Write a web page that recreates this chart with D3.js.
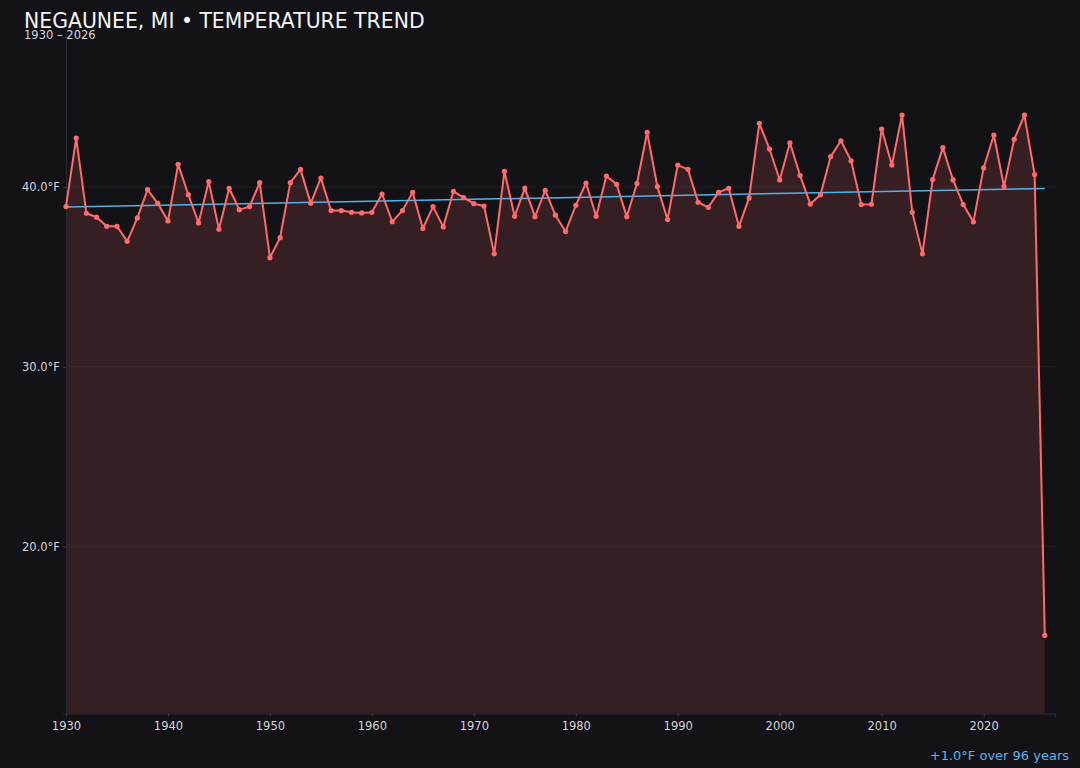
<!DOCTYPE html>
<html>
<head>
<meta charset="utf-8">
<script src="https://cdn.jsdelivr.net/npm/d3@7"></script>
<style>
  html, body { margin: 0; padding: 0; background: #131217; }
  svg { display: block; font-family: "DejaVu Sans", sans-serif; }
</style>
</head>
<body>
<svg id="chart" width="1080" height="768"></svg>
<script>
// Annual mean temperature, Negaunee MI
const firstYear = 1930;
const temps = [
    38.91, 42.72, 38.54, 38.32, 37.81, 37.81, 36.98, 38.28, 39.85, 39.09, // 1930s
    38.11, 41.26, 39.57, 38.00, 40.30, 37.65, 39.93, 38.74, 38.91, 40.24, // 1940s
    36.07, 37.18, 40.24, 40.98, 39.09, 40.50, 38.69, 38.69, 38.59, 38.56, // 1950s
    38.59, 39.61, 38.07, 38.69, 39.70, 37.69, 38.91, 37.78, 39.76, 39.41, // 1960s
    39.07, 38.94, 36.28, 40.87, 38.37, 39.94, 38.35, 39.81, 38.43, 37.52, // 1970s
    38.98, 40.22, 38.37, 40.61, 40.15, 38.35, 40.19, 43.04, 40.02, 38.19, // 1980s
    41.22, 40.98, 39.15, 38.87, 39.70, 39.93, 37.81, 39.39, 43.54, 42.11, // 1990s
    40.39, 42.46, 40.64, 39.05, 39.57, 41.69, 42.57, 41.46, 39.02, 39.04, // 2000s
    43.22, 41.22, 44.00, 38.59, 36.28, 40.41, 42.19, 40.39, 39.02, 38.06, // 2010s
    41.06, 42.89, 40.02, 42.65, 44.00, 40.69, 15.06                       // 2020s
];
const years = temps.map((t, i) => firstYear + i);
const xTicks = [1930, 1940, 1950, 1960, 1970, 1980, 1990, 2000, 2010, 2020];
const yTicks = [20, 30, 40];

const data = years.map((y, i) => ({ year: y, temp: temps[i] }));

const svg = d3.select("#chart");
const margin = { left: 66, right: 25, top: 37, bottom: 54.5 };
const width = +svg.attr("width");
const height = +svg.attr("height");

const lineColor = "#ff6b6b";
const trendColor = "#4fb3e8";
const tickFont = "11.5px";

// scales
const x = d3.scaleLinear()
    .domain([firstYear, years[years.length - 1] + 1])
    .range([margin.left, width - margin.right]);

const ext = d3.extent(temps);
const pad = (ext[1] - ext[0]) * 0.15;
const y = d3.scaleLinear()
    .domain([ext[0] - pad, ext[1] + pad])
    .range([height - margin.bottom, margin.top]);

// gridlines
svg.append("g")
    .selectAll("line")
    .data(yTicks)
    .enter().append("line")
    .attr("x1", margin.left)
    .attr("x2", width - margin.right)
    .attr("y1", d => y(d))
    .attr("y2", d => y(d))
    .attr("stroke", "rgba(255,255,255,0.05)")
    .attr("stroke-width", 1);

// area under the line
const area = d3.area()
    .x(d => x(d.year))
    .y0(y.range()[0])
    .y1(d => y(d.temp));

svg.append("path")
    .datum(data)
    .attr("d", area)
    .attr("fill", lineColor)
    .attr("fill-opacity", 0.15);

// axes
const xAxis = svg.append("g")
    .attr("transform", `translate(0,${height - margin.bottom})`)
    .call(d3.axisBottom(x).tickValues(xTicks).tickFormat(d3.format("d")).tickSize(3).tickPadding(5));

const yAxis = svg.append("g")
    .attr("transform", `translate(${margin.left},0)`)
    .call(d3.axisLeft(y).tickValues(yTicks).tickFormat(d => d.toFixed(1) + "°F").tickSize(3).tickPadding(3));

[xAxis, yAxis].forEach(g => {
    g.select(".domain").attr("stroke", "#2a2a31");
    g.selectAll(".tick line").attr("stroke", "#3a3a42");
    g.selectAll(".tick text")
        .attr("fill", "#d4d4d8")
        .style("font-size", tickFont)
        .style("font-family", "'DejaVu Sans', sans-serif");
});

// linear trend over every year shown
const mx = d3.mean(data, d => d.year);
const my = d3.mean(data, d => d.temp);
const slope = d3.sum(data, d => (d.year - mx) * (d.temp - my)) /
              d3.sum(data, d => (d.year - mx) * (d.year - mx));
const intercept = my - slope * mx;
const lastYear = years[years.length - 1];

svg.append("line")
    .attr("x1", x(firstYear))
    .attr("y1", y(intercept + slope * firstYear))
    .attr("x2", x(lastYear))
    .attr("y2", y(intercept + slope * lastYear))
    .attr("stroke", trendColor)
    .attr("stroke-width", 1.5);

// temperature line + dots
const line = d3.line()
    .x(d => x(d.year))
    .y(d => y(d.temp));

svg.append("path")
    .datum(data)
    .attr("d", line)
    .attr("fill", "none")
    .attr("stroke", lineColor)
    .attr("stroke-width", 2)
    .attr("stroke-linejoin", "round");

svg.append("g")
    .selectAll("circle")
    .data(data)
    .enter().append("circle")
    .attr("cx", d => x(d.year))
    .attr("cy", d => y(d.temp))
    .attr("r", 2.6)
    .attr("fill", lineColor);

// titles
svg.append("text")
    .attr("x", 24)
    .attr("y", 27.5)
    .attr("fill", "#f4f4f5")
    .style("font-size", "20.4px")
    .text("NEGAUNEE, MI • TEMPERATURE TREND");

svg.append("text")
    .attr("x", 24)
    .attr("y", 39)
    .attr("fill", "#d4d4d8")
    .style("font-size", "11.5px")
    .text(`${firstYear} – ${lastYear}`);

// trend summary
const span = lastYear - firstYear;
const change = slope * span;
svg.append("text")
    .attr("x", 1069)
    .attr("y", 760)
    .attr("text-anchor", "end")
    .attr("fill", "#5ab4e8")
    .style("font-size", "13px")
    .text(`${change >= 0 ? "+" : ""}${change.toFixed(1)}°F over ${span} years`);
</script>
</body>
</html>
